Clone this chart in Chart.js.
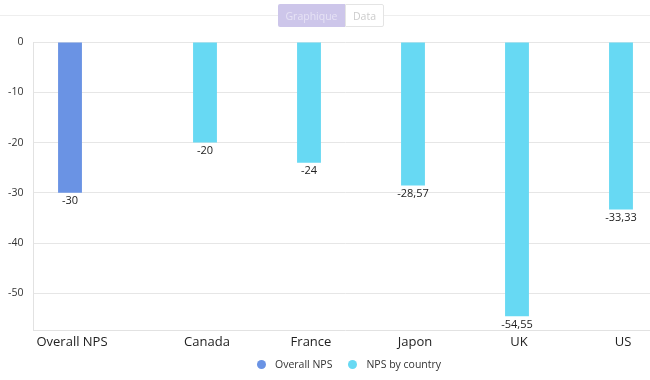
<!DOCTYPE html>
<html>
<head>
<meta charset="utf-8">
<script src="https://cdn.jsdelivr.net/npm/chart.js@4.4.1/dist/chart.umd.min.js"></script>
<style>
  html, body { margin: 0; padding: 0; background: #fff; overflow: hidden; width: 650px; height: 380px; }
  #wrap { position: relative; width: 690px; height: 380px; font-family: "Open Sans", "Noto Sans", sans-serif; }
  #chartBox { position: absolute; left: 0; top: 0; width: 690px; height: 380px; }
  #sep { position: absolute; left: 0; top: 15px; width: 650px; height: 1px; background: #eeeeee; }
  #toggle { position: absolute; left: 278px; top: 4px; display: flex; height: 23px; font-size: 10.5px; }
  #toggle .b1 { width: 67px; background: #cdc6ea; color: #e6e2f5; display: flex; align-items: center; justify-content: center; border-radius: 2px 0 0 2px; }
  #toggle .b2 { width: 39px; background: #fff; color: #cccccc; border: 1px solid #e4e4e4; box-sizing: border-box; display: flex; align-items: center; justify-content: center; border-radius: 0 2px 2px 0; }
  #legend { position: absolute; left: 257px; top: 357px; display: flex; font-size: 10.5px; color: #333; }
  #legend .item { display: flex; align-items: center; margin-right: 16px; }
  #legend .dot { width: 9px; height: 9px; border-radius: 50%; margin-right: 9px; }
</style>
</head>
<body>
<div id="wrap">
  <div id="sep"></div>
  <div id="chartBox"><canvas id="c"></canvas></div>
  <div id="toggle"><div class="b1">Graphique</div><div class="b2">Data</div></div>
  <div id="legend"></div>
</div>
<script>
const categories = ["Overall NPS", "Canada", "France", "Japon", "UK", "US"];
const overallValues = [-30, null, null, null, null, null];
const countryValues = [null, -20, -24, -28.57, -54.55, -33.33];
const seriesNames = ["Overall NPS", "NPS by country"];
const seriesColors = ["#6a93e4", "#67d9f3"];
const yTickStep = 10;

function fmt(v) { return String(v).replace('.', ','); }

const labelPlugin = {
  id: 'labelPlugin',
  afterDatasetsDraw(chart) {
    const ctx = chart.ctx;
    const area = chart.chartArea;
    ctx.save();
    ctx.fillStyle = '#222';
    ctx.textAlign = 'center';
    // value labels
    ctx.font = '11px "Open Sans", "Noto Sans", sans-serif';
    ctx.textBaseline = 'top';
    chart.data.datasets.forEach((ds, di) => {
      const meta = chart.getDatasetMeta(di);
      meta.data.forEach((el, i) => {
        const v = ds.data[i];
        if (v === null || v === undefined) return;
        ctx.fillText(fmt(v), el.x, el.y + 3);
      });
    });
    // category labels centered under each drawn bar
    ctx.font = '13px "Open Sans", "Noto Sans", sans-serif';
    ctx.textBaseline = 'middle';
    chart.data.labels.forEach((lab, i) => {
      let x = chart.scales.x.getPixelForTick(i);
      chart.data.datasets.forEach((ds, di) => {
        const v = ds.data[i];
        if (v !== null && v !== undefined) x = chart.getDatasetMeta(di).data[i].x;
      });
      ctx.fillText(lab, x + 2, area.bottom + 12);
    });
    ctx.restore();
  }
};

const chart = new Chart(document.getElementById('c'), {
  type: 'bar',
  data: {
    labels: categories,
    datasets: [
      { label: seriesNames[0], data: overallValues, backgroundColor: seriesColors[0] },
      { label: seriesNames[1], data: countryValues, backgroundColor: seriesColors[1] }
    ]
  },
  options: {
    responsive: true,
    maintainAspectRatio: false,
    animation: false,
    categoryPercentage: 0.596,
    barPercentage: 0.77,
    layout: { padding: { top: 42, right: 32.5, left: 0, bottom: 0 } },
    plugins: { legend: { display: false }, tooltip: { enabled: false } },
    scales: {
      x: {
        grid: { display: false },
        border: { display: true, color: '#e2e2e2' },
        ticks: { display: false },
        afterFit(scale) { scale.height = 50; }
      },
      y: {
        min: -57.3,
        max: 0,
        grid: { color: '#e6e6e6', drawTicks: false },
        border: { display: true, color: '#e2e2e2' },
        ticks: {
          stepSize: yTickStep,
          padding: 10,
          color: '#333',
          font: { family: '"Open Sans", "Noto Sans", sans-serif', size: 10.5 },
          callback(v) { return (v % yTickStep === 0) ? String(v) : null; }
        },
        afterFit(scale) { scale.width = 33.5; }
      }
    }
  },
  plugins: [labelPlugin]
});

// HTML legend built from the series
const legend = document.getElementById('legend');
seriesNames.forEach((name, i) => {
  const item = document.createElement('div');
  item.className = 'item';
  const dot = document.createElement('span');
  dot.className = 'dot';
  dot.style.background = seriesColors[i];
  const t = document.createElement('span');
  t.textContent = name;
  item.appendChild(dot);
  item.appendChild(t);
  legend.appendChild(item);
});
</script>
</body>
</html>
